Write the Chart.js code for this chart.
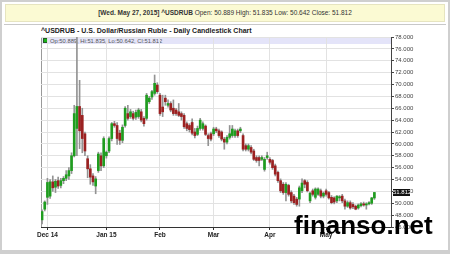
<!DOCTYPE html>
<html>
<head>
<meta charset="utf-8">
<script src="https://cdn.jsdelivr.net/npm/chart.js@4.4.1/dist/chart.umd.min.js"></script>
<style>
  html, body { margin: 0; padding: 0; }
  body { width: 450px; height: 254px; background: #cfcfcf; position: relative; overflow: hidden; font-family: "Liberation Sans", Arial, sans-serif; }
  #panel { position: absolute; left: 2px; top: 2px; width: 446px; height: 248px; background: #fff; }
  #header { position: absolute; left: 5px; top: 4px; width: 438px; height: 16px; background: #fbfad3; border: 1px solid #e6e4c0;
            font-size: 6.5px; color: #333; text-align: center; line-height: 16px; white-space: nowrap; }
  #sep { position: absolute; left: 4px; top: 24px; width: 442px; height: 1px; background: #c8c8c8; }
  #title { position: absolute; left: 41px; top: 26px; font-size: 7px; font-weight: bold; color: #222; white-space: nowrap; line-height: 9px; }
  #frame { position: absolute; left: 41px; top: 37px; width: 350px; height: 190px; border-left: 1px solid #9a9a9a; border-top: 1px solid #b8b8b8; box-sizing: border-box; }
  #band { position: absolute; left: 42px; top: 38px; width: 349px; height: 6px; background: #e4e4f9; }
  #legend { position: absolute; left: 43px; top: 37.5px; font-size: 5.8px; color: #555; line-height: 7px; white-space: nowrap; }
  #legend i { display: inline-block; width: 3px; height: 3px; background: #19b319; border: 0.5px solid #245a24; margin-right: 2px; vertical-align: -0.5px; }
  canvas { position: absolute; left: 0; top: 0; }
  #last { position: absolute; left: 393px; width: 17px; height: 7px; background: #111; color: #fff; font-size: 6px; line-height: 7px; text-align: center; }
  #mark { position: absolute; left: 294px; top: 212px; font-size: 26px; font-weight: bold; color: #000; line-height: 26px; white-space: nowrap; }
</style>
</head>
<body>
<div id="panel"></div>
<div id="header"><b>[Wed. May 27, 2015] ^USDRUB</b> Open: 50.889 High: 51.835 Low: 50.642 Close: 51.812</div>
<div id="sep"></div>
<div id="title">^USDRUB - U.S. Dollar/Russian Ruble - Daily Candlestick Chart</div>
<div id="frame"></div>
<div id="band"></div>
<div id="legend"><i></i>Op:50.889, Hi:51.835, Lo:50.642, Cl:51.812</div>
<canvas id="chart" width="450" height="254"></canvas>
<div id="last">51.812</div>
<div id="mark">finanso.net</div>

<script>
// daily candles, Dec 2014 .. May 27 2015 (one entry per trading day)
const openVals = [
  47.2, 49.0, 51.0, 51.2, 53.6, 52.7, 53.8, 53.0, 53.8, 54.2, 54.6, 55.5, 58.0, 62.6, 66.3, 64.8, 61.7, 57.5, 55.8, 54.6,
  52.9, 55.5, 58.0, 56.3, 58.0, 58.8, 60.9, 63.4, 63.1, 61.8, 60.6, 63.1, 65.1, 64.6, 65.1, 64.5, 64.6, 65.4, 64.3, 64.3,
  67.1, 67.9, 68.5, 69.9, 68.2, 66.2, 67.7, 66.5, 66.8, 66.0, 65.7, 65.4, 65.1, 64.8, 63.4, 63.1, 63.6, 62.0, 61.6, 62.6,
  62.6, 63.0, 61.4, 61.7, 61.7, 62.5, 62.2, 62.0, 60.8, 60.3, 61.1, 61.4, 61.4, 62.2, 62.2, 61.4, 59.7, 59.1, 59.4, 58.8,
  57.7, 57.7, 57.4, 55.7, 57.7, 57.4, 57.2, 56.3, 55.2, 53.8, 53.2, 51.8, 53.0, 51.8, 51.2, 50.7, 50.7, 52.1, 53.8, 53.5,
  50.4, 52.1, 51.0, 51.5, 52.1, 51.2, 52.1, 51.8, 51.0, 50.9, 50.4, 50.9, 51.2, 50.4, 49.5, 50.1, 49.8, 49.5, 49.2, 49.6,
  49.9, 49.7, 49.9, 50.0, 50.889
];
const highVals = [
  48.9, 50.4, 54.2, 54.0, 54.6, 54.0, 54.4, 54.2, 54.5, 55.5, 56.0, 58.5, 66.5, 79.0, 70.7, 66.0, 62.0, 58.0, 56.5, 55.0,
  54.5, 58.6, 58.5, 61.2, 58.8, 61.2, 63.6, 63.8, 63.6, 62.3, 63.2, 66.3, 66.5, 65.8, 65.5, 65.7, 66.0, 65.8, 64.6, 68.5,
  68.0, 69.0, 71.6, 70.3, 68.5, 68.2, 68.2, 67.4, 67.1, 67.4, 66.0, 66.8, 65.4, 65.1, 63.7, 63.4, 64.2, 62.6, 63.0, 64.3,
  63.7, 63.2, 61.7, 62.0, 62.8, 62.8, 62.5, 62.2, 61.1, 61.4, 63.1, 63.1, 62.5, 62.5, 62.8, 61.7, 60.0, 60.0, 59.7, 59.1,
  58.0, 58.0, 58.0, 57.7, 58.6, 57.7, 57.4, 56.6, 55.4, 54.1, 53.5, 53.5, 53.2, 52.1, 51.5, 51.0, 52.9, 54.1, 54.0, 53.8,
  51.9, 52.4, 52.6, 52.6, 52.4, 51.9, 52.4, 52.0, 51.3, 51.1, 51.3, 51.3, 51.5, 50.7, 50.4, 50.4, 50.1, 49.7, 49.9, 50.1,
  50.2, 50.1, 50.3, 51.0, 51.835
];
const lowVals = [
  46.5, 48.7, 49.8, 50.8, 52.0, 51.8, 52.5, 52.6, 53.3, 53.8, 54.0, 55.0, 57.8, 58.0, 59.2, 58.5, 58.0, 54.3, 53.2, 53.0,
  51.6, 55.2, 55.5, 56.0, 57.6, 58.5, 60.5, 62.8, 59.9, 59.9, 60.2, 62.8, 64.0, 64.3, 64.0, 64.1, 64.3, 63.7, 63.0, 64.0,
  66.8, 67.5, 68.2, 68.5, 64.8, 64.6, 66.5, 66.2, 65.4, 64.8, 64.8, 64.6, 64.0, 62.6, 62.2, 62.0, 61.5, 61.0, 61.4, 62.3,
  62.3, 61.4, 59.7, 60.5, 61.4, 61.9, 61.1, 60.5, 59.1, 60.0, 60.8, 61.1, 61.1, 61.1, 61.9, 58.8, 58.8, 58.8, 58.3, 57.2,
  56.9, 56.3, 57.2, 55.4, 57.4, 56.6, 55.7, 54.6, 53.5, 51.8, 51.5, 50.4, 51.2, 50.1, 49.8, 49.5, 49.5, 51.8, 52.6, 51.9,
  50.1, 51.2, 50.7, 51.3, 50.9, 50.9, 51.2, 50.7, 49.9, 49.9, 50.1, 50.4, 50.1, 49.0, 49.3, 49.0, 49.1, 48.9, 49.0, 49.4,
  49.5, 49.0, 49.7, 49.8, 50.642
];
const closeVals = [
  48.6, 50.2, 53.5, 53.6, 52.6, 53.7, 52.9, 53.8, 54.2, 54.8, 55.5, 58.0, 65.1, 66.3, 62.2, 60.9, 58.8, 55.8, 54.4, 53.6,
  54.1, 58.3, 56.3, 60.9, 58.6, 60.9, 63.4, 63.1, 60.9, 60.6, 62.8, 66.0, 64.3, 65.4, 64.3, 65.3, 65.7, 64.0, 63.4, 68.2,
  67.7, 68.8, 70.2, 68.8, 65.1, 65.4, 67.1, 66.8, 65.7, 65.1, 65.1, 64.8, 64.6, 62.9, 62.6, 62.4, 61.8, 61.4, 62.6, 64.0,
  63.4, 61.6, 60.9, 60.8, 62.5, 62.2, 61.4, 60.8, 60.3, 61.1, 61.7, 62.5, 62.2, 61.4, 62.5, 59.1, 59.1, 59.7, 58.6, 57.4,
  57.2, 57.2, 57.7, 57.4, 58.0, 56.9, 56.0, 54.9, 53.8, 52.1, 51.8, 53.2, 51.5, 50.4, 50.1, 49.8, 52.6, 53.4, 53.2, 52.1,
  51.7, 51.5, 52.4, 52.4, 51.2, 51.7, 51.5, 50.9, 50.1, 50.2, 51.2, 51.1, 50.4, 49.5, 50.1, 49.2, 49.4, 49.0, 49.7, 49.9,
  49.7, 49.9, 50.1, 50.9, 51.812
];

// month ticks (trading-day index) and labels
const monthTickIdx = [2, 24, 44, 64, 85, 106];
const monthLabels = ['Dec 14', 'Jan 15', 'Feb', 'Mar', 'Apr', 'May'];

const yTicksMin = 46, yTicksMax = 78, yStep = 2;

const UP = '#1f9d1f', DOWN = '#9b2121', WICK = '#939393';

const wicks = highVals.map((h, i) => ({ x: i, y: [lowVals[i], h] }));
const bodies = openVals.map((o, i) => ({ x: i, y: [Math.min(o, closeVals[i]), Math.max(o, closeVals[i])] }));
const bodyColors = openVals.map((o, i) => closeVals[i] >= o ? UP : DOWN);

// places the black last-price box on the right axis
const lastPricePlugin = {
    id: 'lastPrice',
    afterDraw(chart) {
        const y = chart.scales.y.getPixelForValue(closeVals[closeVals.length - 1]);
        document.getElementById('last').style.top = (y - 3.5) + 'px';
    }
};

new Chart(document.getElementById('chart'), {
    type: 'bar',
    data: {
        datasets: [
            { data: wicks, backgroundColor: WICK, barThickness: 1, grouped: false, order: 2 },
            { data: bodies, backgroundColor: bodyColors, barThickness: 2, minBarLength: 1, grouped: false, order: 1 }
        ]
    },
    options: {
        responsive: false,
        animation: false,
        devicePixelRatio: 1,
        layout: { padding: { left: 41, top: 37, right: 0, bottom: 0 } },
        plugins: { legend: { display: false }, tooltip: { enabled: false } },
        scales: {
            x: {
                type: 'linear',
                offset: false,
                min: -0.4,
                max: 130.2,
                afterFit: s => { s.height = 27; },
                afterBuildTicks: s => { s.ticks = monthTickIdx.map(v => ({ value: v })); },
                grid: { offset: false, color: '#e2e2e2', tickColor: '#333', tickLength: 3 },
                border: { color: '#333' },
                ticks: {
                    autoSkip: false,
                    maxRotation: 0,
                    padding: 1,
                    color: '#222',
                    font: { family: 'Liberation Sans', size: 6.5, weight: 'bold' },
                    callback: v => monthLabels[monthTickIdx.indexOf(v)]
                }
            },
            y: {
                position: 'right',
                min: yTicksMin,
                max: yTicksMax,
                afterFit: s => { s.width = 59; },
                grid: { color: '#e2e2e2', tickColor: '#444', tickLength: 3 },
                border: { color: '#444' },
                ticks: {
                    stepSize: yStep,
                    padding: 1,
                    color: '#444',
                    font: { family: 'Liberation Sans', size: 6 },
                    callback: v => v.toFixed(3)
                }
            }
        }
    },
    plugins: [lastPricePlugin]
});
</script>
</body>
</html>
